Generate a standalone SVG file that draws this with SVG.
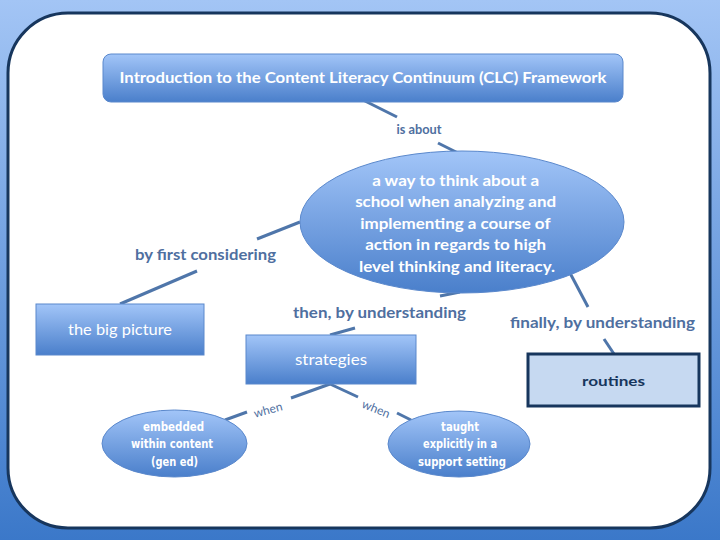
<svg xmlns="http://www.w3.org/2000/svg" width="720" height="540" viewBox="0 0 720 540">
<defs>
<linearGradient id="bg" x1="0" y1="0" x2="0" y2="1">
<stop offset="0" stop-color="#a3c5f5"/>
<stop offset="1" stop-color="#3b78c9"/>
</linearGradient>
<linearGradient id="node" x1="0" y1="0" x2="0" y2="1">
<stop offset="0" stop-color="#a2c5f8"/>
<stop offset="1" stop-color="#4a7fcb"/>
</linearGradient>
<style>
.n{fill:url(#node);stroke:#5a88cc;stroke-width:1}
.t{font-family:Lato,"Open Sans","Liberation Sans",sans-serif;fill:#ffffff;text-anchor:middle}
.b{font-weight:bold}
.s{font-family:"DejaVu Sans Condensed","DejaVu Sans",sans-serif;font-size:12px;font-weight:bold;fill:#ffffff;text-anchor:middle}
.l{font-family:Lato,"Open Sans","Liberation Sans",sans-serif;fill:#4f6f9f;text-anchor:middle;font-weight:bold}
.w{font-weight:normal}
.c line{stroke:#4f76aa;stroke-width:3;stroke-linecap:butt}
</style>
</defs>
<rect x="0" y="0" width="720" height="540" fill="url(#bg)"/>
<rect x="8" y="13" width="702" height="515" rx="60" ry="60" fill="#ffffff" stroke="#17365d" stroke-width="3"/>

<g class="c" id="connectors">
<line x1="363" y1="100" x2="397" y2="117"/>
<line x1="438" y1="143" x2="458" y2="153"/>
<line x1="300" y1="222" x2="257" y2="239"/>
<line x1="197" y1="271" x2="120" y2="304"/>
<line x1="440" y1="296" x2="460" y2="292"/>
<line x1="355" y1="328" x2="330" y2="335"/>
<line x1="570" y1="273" x2="588" y2="307"/>
<line x1="604" y1="339" x2="614" y2="354"/>
<line x1="330" y1="384" x2="291" y2="398"/>
<line x1="247" y1="412" x2="225" y2="420"/>
<line x1="330" y1="384" x2="358" y2="397"/>
<line x1="397" y1="413" x2="411" y2="420"/>
</g>

<g id="labels">
<text class="l" x="419" y="134" font-size="13" textLength="45" lengthAdjust="spacingAndGlyphs">is about</text>
<text class="l" x="205.5" y="260" font-size="15" textLength="141" lengthAdjust="spacingAndGlyphs">by first considering</text>
<text class="l" x="379.5" y="318" font-size="15" textLength="173" lengthAdjust="spacingAndGlyphs">then, by understanding</text>
<text class="l" x="602.5" y="328" font-size="15" textLength="185" lengthAdjust="spacingAndGlyphs">finally, by understanding</text>
<text class="l w" x="268" y="414" font-size="12" transform="rotate(-15 268 410)">when</text>
<text class="l w" x="376" y="413" font-size="12" transform="rotate(22 376 409)">when</text>
</g>

<g id="title">
<rect class="n" x="103" y="54" width="520" height="48" rx="8" ry="8"/>
<text class="t b" x="363" y="83" font-size="15" textLength="487" lengthAdjust="spacingAndGlyphs">Introduction to the Content Literacy Continuum (CLC) Framework</text>
</g>

<g id="way">
<ellipse class="n" cx="462" cy="222" rx="162" ry="71"/>
<text class="t b" font-size="15">
<tspan x="457.5" y="186" textLength="167" lengthAdjust="spacingAndGlyphs">a way to think about a</tspan>
<tspan x="457.5" y="207" textLength="201" lengthAdjust="spacingAndGlyphs">school when analyzing and</tspan>
<tspan x="457" y="229" textLength="190" lengthAdjust="spacingAndGlyphs">implementing a course of</tspan>
<tspan x="457.5" y="250" textLength="181" lengthAdjust="spacingAndGlyphs">action in regards to high</tspan>
<tspan x="457" y="272" textLength="196" lengthAdjust="spacingAndGlyphs">level thinking and literacy.</tspan>
</text>
</g>

<g id="bigpicture">
<rect class="n" x="36" y="304" width="168" height="51"/>
<text class="t" x="120" y="335" font-size="15" textLength="104" lengthAdjust="spacingAndGlyphs">the big picture</text>
</g>

<g id="strategies">
<rect class="n" x="246" y="335" width="170" height="49"/>
<text class="t" x="331" y="365" font-size="15" textLength="72" lengthAdjust="spacingAndGlyphs">strategies</text>
</g>

<g id="routines">
<rect x="528" y="354" width="171" height="52" fill="#c6d9f1" stroke="#17365d" stroke-width="3"/>
<text x="613.5" y="386" font-family="Lato,'Open Sans','Liberation Sans',sans-serif" font-size="14" font-weight="bold" fill="#17365d" text-anchor="middle" textLength="63" lengthAdjust="spacingAndGlyphs">routines</text>
</g>

<g id="embedded">
<ellipse class="n" cx="174.5" cy="443.5" rx="72.5" ry="33.5"/>
<text class="s">
<tspan x="175.5" y="431" textLength="61" lengthAdjust="spacingAndGlyphs">embedded</tspan>
<tspan x="174" y="448" textLength="82" lengthAdjust="spacingAndGlyphs">within content</tspan>
<tspan x="174.5" y="466" textLength="47" lengthAdjust="spacingAndGlyphs">(gen ed)</tspan>
</text>
</g>

<g id="taught">
<ellipse class="n" cx="459" cy="444" rx="71" ry="33"/>
<text class="s">
<tspan x="462" y="431" textLength="38" lengthAdjust="spacingAndGlyphs">taught</tspan>
<tspan x="462" y="448" textLength="74" lengthAdjust="spacingAndGlyphs">explicitly in a</tspan>
<tspan x="462" y="466" textLength="88" lengthAdjust="spacingAndGlyphs">support setting</tspan>
</text>
</g>
</svg>
